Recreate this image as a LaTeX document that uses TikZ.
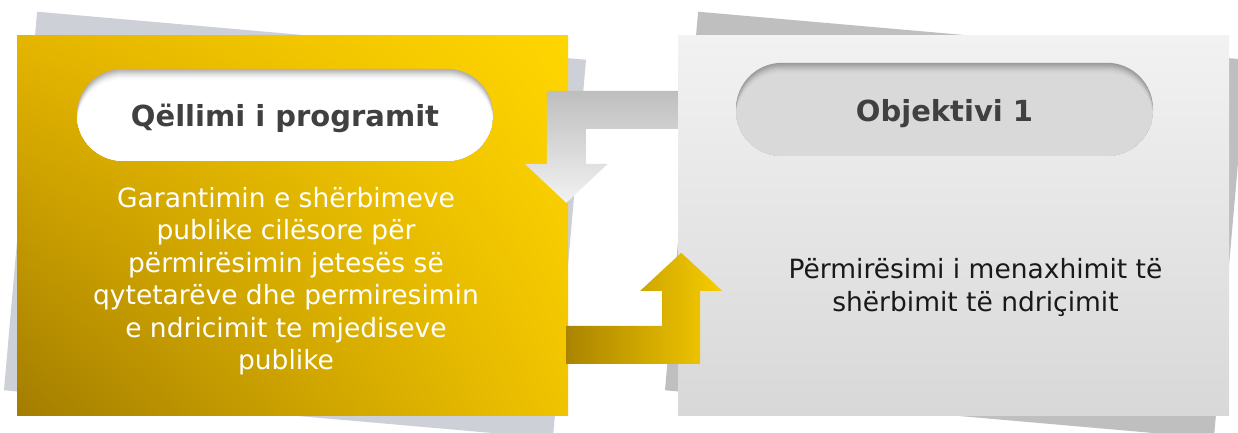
\documentclass[tikz,border=0pt]{standalone}
\usepackage{fontspec}
\setmainfont{DejaVu Sans}
\usepackage{xcolor}
\usetikzlibrary{calc, positioning, shadings}

\definecolor{goldTL}{HTML}{E5B500}
\definecolor{goldTR}{HTML}{FFD600}
\definecolor{goldBL}{HTML}{A37D00}
\definecolor{goldBR}{HTML}{F0C300}
\definecolor{goldDark}{HTML}{AA8400}
\definecolor{goldLight}{HTML}{F7CC00}
\definecolor{silverTop}{HTML}{F2F2F2}
\definecolor{silverBot}{HTML}{D8D8D8}
\definecolor{backBlue}{HTML}{CDD0D7}
\definecolor{backGrey}{HTML}{BFBFBF}
\definecolor{arrowTop}{HTML}{BEBEBE}
\definecolor{arrowBot}{HTML}{F2F2F2}
\definecolor{titleGrey}{HTML}{404040}
\definecolor{rimWhite}{HTML}{B0B0B0}
\definecolor{rimGrey}{HTML}{9A9A9A}
\definecolor{pillGrey}{HTML}{D9D9D9}

\begin{document}
\begin{tikzpicture}[
  x=1pt, y=-1pt,
  card/.style={minimum width=551pt, minimum height=380pt, inner sep=0pt},
  backcard/.style={card, rotate=-5},
  goalcard/.style={card, upper left=goldTL, upper right=goldTR,
                   lower left=goldBL, lower right=goldBR},
  objcard/.style={card, top color=silverTop, bottom color=silverBot},
  pill/.style={minimum width=416pt, minimum height=92pt, inner sep=0pt,
               rounded corners=46pt},
  sunken/.style 2 args={pill, fill=#2, path picture={
      \foreach \k/\p in {1/10,2/22,3/35,4/48,5/60,6/71,7/80,8/88,9/94,10/98,11/100}
        \fill[#1!\p!#2, rounded corners=46pt]
          ($(path picture bounding box.north west)+(0,\k)$) rectangle
          ($(path picture bounding box.south east)+(0,\k)$);}},
  titletext/.style={anchor=base, text=titleGrey,
                    font=\fontsize{29}{34}\selectfont\bfseries},
  bodytext/.style={align=center, inner sep=0pt,
                   font=\fontsize{26.5}{32.5}\selectfont}
]
  \useasboundingbox (0,0) rectangle (1238,432);

  % Cards behind
  \node[backcard, fill=backBlue] (goalback) at (295,225) {};
  \node[backcard, fill=backGrey] (objback) at (956,225) {};

  % Cards
  \node[goalcard] (goal) at (292.5,225) {};
  \node[objcard] (obj) at (953.5,225) {};

  % Headings
  \node[sunken={white}{rimWhite}] (goalpill) at ($(goal.north)+(-7.5,80)$) {};
  \node[titletext] (goaltitle) at ($(goalpill.center)+(0,12)$) {Qëllimi i programit};
  \node[sunken={pillGrey}{rimGrey}, minimum width=417pt, minimum height=93pt]
    (objpill) at ($(obj.north)+(-9,74.5)$) {};
  \node[titletext] (objtitle) at ($(objpill.center)+(0,12)$) {Objektivi 1};

  % Texts
  \node[bodytext, text=white] (goaltext) at ($(goal.center)+(-6.5,56)$)
    {Garantimin e shërbimeve\\publike cilësore për\\përmirësimin jetesës së\\qytetarëve dhe permiresimin\\e ndricimit te mjediseve\\publike};
  \node[bodytext, text=black!90] (objtext) at ($(obj.center)+(22,62.5)$)
    {Përmirësimi i menaxhimit të\\shërbimit të ndriçimit};

  % Arrows
  \coordinate (objout) at ($(obj.north west)+(0,75)$);
  \coordinate (goalout) at ($(goal.north east)+(0,310)$);
  \shade[top color=arrowTop, bottom color=arrowBot]
    (objout) ++(0,-19) -- ++(-131,0) -- ++(0,73) -- ++(-22,0)
    -- ++(41.5,39) -- ++(41.5,-39) -- ++(-22,0) -- ++(0,-35) -- ++(92,0) -- cycle;
  \shade[left color=goldDark, right color=goldLight]
    (goalout) ++(-2,-19) -- ++(96,0) -- ++(0,-35) -- ++(-22,0)
    -- ++(41,-38) -- ++(41,38) -- ++(-22,0) -- ++(0,73) -- ++(-134,0) -- cycle;
\end{tikzpicture}
\end{document}
